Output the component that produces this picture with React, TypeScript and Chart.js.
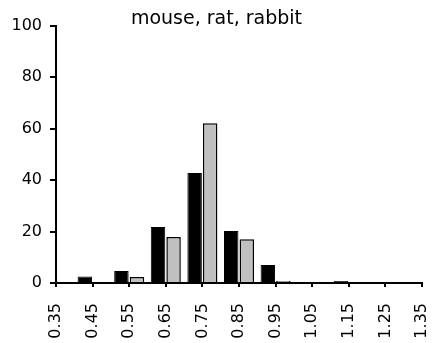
import React, { useEffect, useRef } from "react";
import { Chart, registerables } from "chart.js";

Chart.register(...registerables);

const titleText = "mouse, rat, rabbit";
const categories = ["0.35", "0.45", "0.55", "0.65", "0.75", "0.85", "0.95", "1.05", "1.15", "1.25", "1.35"];
const blackSeries = [0, 2.5, 4.7, 21.8, 42.8, 20.2, 7.0, 0, 0.8, 0, 0];
const graySeries = [0, 0, 2.3, 17.9, 62.1, 17.0, 0.8, 0, 0, 0, 0];
const yTicks = [0, 20, 40, 60, 80, 100];

export default function App() {
  const ref = useRef<HTMLCanvasElement | null>(null);
  useEffect(() => {
    if (!ref.current) return;
    const font = { family: "DejaVu Sans", size: 16, weight: "normal" as const };
    const chart = new Chart(ref.current, {
      type: "bar",
      data: {
        labels: categories,
        datasets: [
          {
            label: "black",
            data: blackSeries,
            backgroundColor: "#000000",
            borderColor: "#000000",
            borderWidth: 1,
            categoryPercentage: 0.85,
            barPercentage: 0.93,
          },
          {
            label: "gray",
            data: graySeries,
            backgroundColor: "#c0c0c0",
            borderColor: "#000000",
            borderWidth: 1.5,
            categoryPercentage: 0.85,
            barPercentage: 0.93,
          },
        ],
      },
      options: {
        responsive: false,
        animation: false,
        layout: { padding: { left: 11, right: 12, top: 0, bottom: 0 } },
        plugins: {
          legend: { display: false },
          tooltip: { enabled: false },
          title: {
            display: true,
            text: titleText,
            color: "#000",
            font: { family: "DejaVu Sans", size: 19, weight: "normal" },
            padding: { top: 8, bottom: -5 },
          },
        },
        scales: {
          x: {
            type: "category",
            offset: false,
            afterFit: (scale: any) => {
              scale.paddingLeft = 0;
              scale.paddingRight = 0;
              scale.height = 60;
            },
            grid: {
              display: true,
              offset: false,
              drawOnChartArea: false,
              drawTicks: true,
              tickLength: 4,
              color: "#000",
              lineWidth: 2,
            },
            border: { display: true, color: "#000", width: 2 },
            ticks: {
              color: "#000",
              font,
              minRotation: 90,
              maxRotation: 90,
              padding: 16,
              autoSkip: false,
            },
          },
          y: {
            min: 0,
            max: 100,
            afterBuildTicks: (axis: any) => {
              axis.ticks = yTicks.map((v) => ({ value: v }));
            },
            afterFit: (scale: any) => {
              scale.width = 45;
            },
            grid: {
              display: true,
              drawOnChartArea: false,
              drawTicks: true,
              tickLength: 6,
              color: "#000",
              lineWidth: 2,
            },
            border: { display: true, color: "#000", width: 2 },
            ticks: { color: "#000", font, padding: 8 },
          },
        },
      },
    });
    return () => chart.destroy();
  }, []);
  return (
    <div style={{ position: "absolute", left: 0, top: 0, width: 434, height: 343, background: "#fff" }}>
      <canvas ref={ref} width={434} height={343} />
    </div>
  );
}
